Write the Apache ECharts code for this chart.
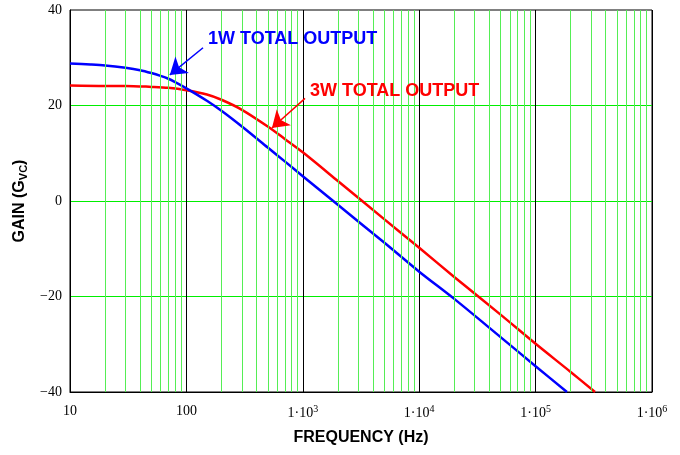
<!DOCTYPE html>
<html><head><meta charset="utf-8">
<script src="https://cdn.jsdelivr.net/npm/echarts@6/dist/echarts.min.js"></script>
<style>html,body{margin:0;padding:0;background:#fff}#c{width:680px;height:455px}</style>
</head><body><div id="c"></div>
<script>
// Frequencies (Hz) and gains (dB)
const blueFreq = [10, 15, 20, 30, 40, 50, 60, 70, 80, 100, 150, 200, 300, 500, 700, 1000, 2000, 5000, 10000, 20000, 50000, 100000, 186000];
const blueGain = [28.8, 28.6, 28.4, 27.9, 27.4, 26.8, 26.2, 25.6, 24.9, 23.6, 21.0, 18.9, 15.6, 11.2, 8.3, 5.2, -0.8, -8.7, -14.8, -20.5, -28.5, -34.6, -40];
const redFreq = [10, 20, 30, 50, 70, 100, 150, 200, 300, 500, 700, 1000, 2000, 5000, 10000, 20000, 50000, 100000, 200000, 324000];
const redGain = [24.2, 24.1, 24.1, 23.9, 23.7, 23.2, 22.3, 21.2, 19.1, 15.6, 13.0, 10.2, 4.2, -3.8, -9.8, -15.9, -23.8, -29.9, -35.8, -40];
const minorFreqs = [];
[10, 100, 1000, 10000, 100000].forEach(d => { for (let k = 2; k <= 9; k++) minorFreqs.push(d * k); });
const yTicks = [-40, -20, 0, 20, 40];
const xTickLabels = {10: '10', 100: '100', 1000: '1·10{sup|3}', 10000: '1·10{sup|4}', 100000: '1·10{sup|5}', 1000000: '1·10{sup|6}'};
// Annotation arrows (data coords): [tail, tip]
const blueArrow = [[139, 32.1], [72, 26.4]];
const redArrow = [[1045, 21.5], [543, 15.3]];

const chart = echarts.init(document.getElementById('c'), null, {renderer: 'canvas'});
const zip = (a, b) => a.map((v, i) => [v, b[i]]);
const serif = '"Liberation Serif", "DejaVu Serif", serif';
const sans = '"Liberation Sans", Arial, sans-serif';

chart.setOption({
  animation: false,
  grid: {left: 70, right: 28, top: 10, bottom: 63, show: true, borderColor: '#000', borderWidth: 1},
  xAxis: {
    type: 'log', logBase: 10, min: 10, max: 1000000,
    name: 'FREQUENCY (Hz)', nameLocation: 'middle', nameGap: 38,
    nameTextStyle: {fontFamily: sans, fontWeight: 'bold', fontSize: 16, color: '#000'},
    axisLine: {show: true, onZero: false, lineStyle: {color: '#000', width: 1}},
    axisTick: {show: false},
    axisLabel: {
      margin: 12, fontFamily: serif, fontSize: 14, color: '#000',
      formatter: v => xTickLabels[Math.round(v)] || '',
      rich: {sup: {fontFamily: serif, fontSize: 10, color: '#000', padding: [0, 0, 9, 0]}}
    },
    splitLine: {show: true, lineStyle: {color: '#000', width: 1}}
  },
  yAxis: {
    type: 'value', min: -40, max: 40, interval: 20,
    name: 'GAIN (G{sub|VC})', nameLocation: 'middle', nameGap: 36,
    nameTextStyle: {fontFamily: sans, fontWeight: 'bold', fontSize: 16, color: '#000',
      rich: {sub: {fontFamily: sans, fontWeight: 'bold', fontSize: 11, color: '#000', padding: [8, 0, 0, 0]}}},
    axisLine: {show: true, onZero: false, lineStyle: {color: '#000'}},
    axisTick: {show: false},
    axisLabel: {margin: 8, fontFamily: serif, fontSize: 14, color: '#000',
      formatter: v => (yTicks.includes(v) ? String(v).replace('-', '\u2212') : '')},
    splitLine: {show: true, showMinLine: false, showMaxLine: false, lineStyle: {color: '#00ee00', width: 1}}
  },
  series: [
    {
      type: 'line', data: zip(blueFreq, blueGain), z: 1, silent: true, showSymbol: false,
      lineStyle: {width: 0, opacity: 0},
      markLine: {
        silent: true, symbol: ['none', 'none'], animation: false,
        label: {show: false},
        lineStyle: {color: '#55ee55', width: 1, type: 'solid'},
        data: minorFreqs.map(f => ({xAxis: f}))
      }
    },
    {
      type: 'line', name: '1W', data: zip(blueFreq, blueGain), z: 3, smooth: 0.3,
      showSymbol: false, lineStyle: {color: '#0000ff', width: 2.5}, itemStyle: {color: '#0000ff'},
      markLine: {
        silent: true, symbol: ['none', 'arrow'], symbolSize: 16, label: {show: false},
        lineStyle: {color: '#0000ff', width: 1.5, type: 'solid'},
        data: [[{coord: blueArrow[0]}, {coord: blueArrow[1]}]]
      }
    },
    {
      type: 'line', name: '3W', data: zip(redFreq, redGain), z: 2, smooth: 0.3,
      showSymbol: false, lineStyle: {color: '#ff0000', width: 2.5}, itemStyle: {color: '#ff0000'},
      markLine: {
        silent: true, symbol: ['none', 'arrow'], symbolSize: 16, label: {show: false},
        lineStyle: {color: '#ff0000', width: 1.5, type: 'solid'},
        data: [[{coord: redArrow[0]}, {coord: redArrow[1]}]]
      }
    }
  ],
  graphic: [
    {type: 'text', left: 208, top: 30, z: 10, style: {text: '1W TOTAL OUTPUT', fill: '#0000ff', font: 'bold 18px "Liberation Sans", Arial, sans-serif'}},
    {type: 'text', left: 310, top: 82, z: 10, style: {text: '3W TOTAL OUTPUT', fill: '#ff0000', font: 'bold 18px "Liberation Sans", Arial, sans-serif'}}
  ]
});
</script></body></html>
